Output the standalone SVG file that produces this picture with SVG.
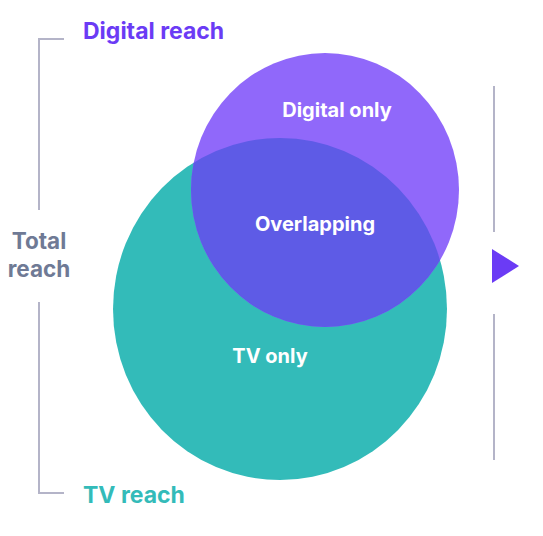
<svg xmlns="http://www.w3.org/2000/svg" width="543" height="536" viewBox="0 0 543 536">
<style>
.br{fill:none;stroke:#B4B4C8;stroke-width:2}
.lbl{font-family:Inter,"Liberation Sans",sans-serif;font-weight:700}
.in{fill:#FFFFFF;font-size:20px;text-anchor:middle}
</style>
<defs>
<clipPath id="tvclip"><ellipse cx="280" cy="309" rx="167" ry="171"/></clipPath>
</defs>
<rect width="543" height="536" fill="#FFFFFF"/>
<g id="tv-circle"><ellipse cx="280" cy="309" rx="167" ry="171" fill="#33BBB9"/></g>
<g id="digital-circle"><ellipse cx="325" cy="190" rx="134" ry="137" fill="#9068FA"/></g>
<g id="overlap"><ellipse cx="325" cy="190" rx="134" ry="137" fill="#5E5BE6" clip-path="url(#tvclip)"/></g>
<g id="labels">
<text class="lbl in" x="337" y="117">Digital only</text>
<text class="lbl in" x="315" y="231">Overlapping</text>
<text class="lbl in" x="270" y="363">TV only</text>
<text class="lbl" x="83" y="39" font-size="23" fill="#6B3BF5">Digital reach</text>
<text class="lbl" x="83" y="503" font-size="23" fill="#33BBB9">TV reach</text>
<text class="lbl" x="39" y="249" font-size="22.5" fill="#6F7A95" text-anchor="middle">Total</text>
<text class="lbl" x="39" y="277" font-size="22.5" fill="#6F7A95" text-anchor="middle">reach</text>
</g>
<g id="connectors">
<polyline class="br" points="64,39 39,39 39,210"/>
<polyline class="br" points="39,302 39,493 64,493"/>
<line class="br" x1="494" y1="86" x2="494" y2="232"/>
<line class="br" x1="494" y1="314" x2="494" y2="460"/>
<polygon points="492,249 519,266 492,283" fill="#6B3BF5"/>
</g>
</svg>
